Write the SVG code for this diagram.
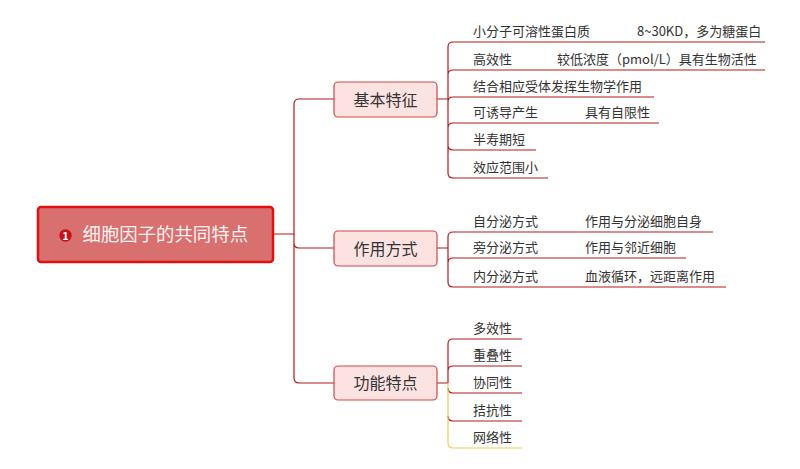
<svg xmlns="http://www.w3.org/2000/svg" width="800" height="469" viewBox="0 0 800 469">
<style>
text{font-family:"Noto Sans CJK SC","Noto Sans",sans-serif;}
.leaf{font-size:13px;fill:#333;}
.br rect{fill:#FDE2E2;stroke:#D24848;stroke-width:1.2;}
.br text{font-size:16px;fill:#333;text-anchor:middle;}
.ln{fill:none;stroke:#B51A1A;stroke-width:1.2;}
.yl{fill:none;stroke:#F0CB55;stroke-width:1.2;}
</style>
<rect width="800" height="469" fill="#fff"/>
<g id="connectors">
<path class="ln" d="M273,234 H294 M294,104 V378 M294,104 Q294,99 299,99 H334 M294,243 Q294,248 299,248 H334 M294,378 Q294,383 299,383 H334"/>
<path class="ln" d="M437,99 H448 M448,47 V173 M448,47 Q448,42 453,42 H765 M448,75 Q448,70 453,70 H765 M448,102 Q448,97 453,97 H654 M448,128 Q448,123 453,123 H659 M448,145 Q448,150 453,150 H536 M448,173 Q448,178 453,178 H548"/>
<path class="ln" d="M437,248 H448 M448,237 V282 M448,237 Q448,232 453,232 H713 M448,263 Q448,258 453,258 H686 M448,282 Q448,287 453,287 H726"/>
<path class="ln" d="M437,383 H448 M448,344 V383 M448,344 Q448,339 453,339 H522 M448,371 Q448,366 453,366 H522 M448,388 Q448,393 453,393 H522 M448,416 Q448,421 453,421 H522"/>
<path class="yl" d="M448,383 V443 Q448,448 453,448 H522"/>
</g>
<g id="root">
<rect x="38" y="207" width="235" height="55" rx="3" fill="#D87070" stroke="#E01010" stroke-width="2.5"/>
<circle cx="65.5" cy="235.5" r="6.2" fill="#C8101A"/>
<text x="65.5" y="239.5" font-size="11" font-weight="bold" fill="#fff" text-anchor="middle">1</text>
<text x="82.5" y="241" font-size="18.4" fill="#FDF0F0">细胞因子的共同特点</text>
</g>
<g id="n-jiben" class="br"><rect x="334" y="82" width="103" height="35" rx="4"/><text x="385.5" y="105.5">基本特征</text></g>
<g id="n-zuoyong" class="br"><rect x="334" y="231" width="103" height="35" rx="4"/><text x="385.5" y="254.5">作用方式</text></g>
<g id="n-gongneng" class="br"><rect x="334" y="366" width="103" height="34" rx="4"/><text x="385.5" y="389">功能特点</text></g>
<g id="l1"><text class="leaf" x="473" y="36">小分子可溶性蛋白质<tspan x="637">8~30KD，多为糖蛋白</tspan></text></g>
<g id="l2"><text class="leaf" x="473" y="64">高效性<tspan x="557">较低浓度（pmol/L）具有生物活性</tspan></text></g>
<g id="l3"><text class="leaf" x="473" y="91">结合相应受体发挥生物学作用</text></g>
<g id="l4"><text class="leaf" x="473" y="117">可诱导产生<tspan x="585">具有自限性</tspan></text></g>
<g id="l5"><text class="leaf" x="473" y="144">半寿期短</text></g>
<g id="l6"><text class="leaf" x="473" y="172">效应范围小</text></g>
<g id="l7"><text class="leaf" x="473" y="226">自分泌方式<tspan x="585">作用与分泌细胞自身</tspan></text></g>
<g id="l8"><text class="leaf" x="473" y="252">旁分泌方式<tspan x="585">作用与邻近细胞</tspan></text></g>
<g id="l9"><text class="leaf" x="473" y="281">内分泌方式<tspan x="585">血液循环，远距离作用</tspan></text></g>
<g id="l10"><text class="leaf" x="473" y="333">多效性</text></g>
<g id="l11"><text class="leaf" x="473" y="360">重叠性</text></g>
<g id="l12"><text class="leaf" x="473" y="387">协同性</text></g>
<g id="l13"><text class="leaf" x="473" y="415">拮抗性</text></g>
<g id="l14"><text class="leaf" x="473" y="442">网络性</text></g>
</svg>
